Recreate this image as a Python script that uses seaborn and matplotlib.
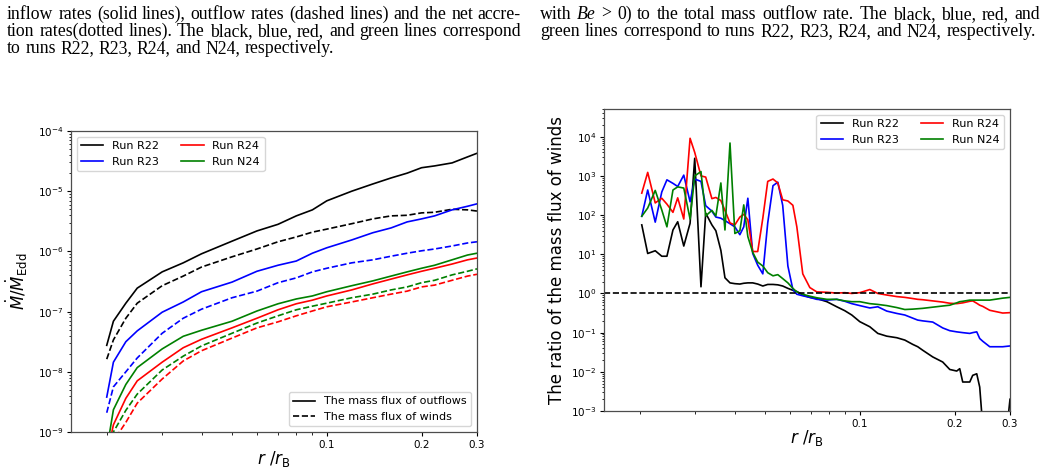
import numpy as np
import pandas as pd
import matplotlib
matplotlib.use("Agg")
import matplotlib.pyplot as plt
import seaborn as sns
from matplotlib.lines import Line2D
from matplotlib.ticker import LogLocator, NullFormatter

# ---- data (log10 of the plotted values) ----
runs = ["R22", "R23", "R24", "N24"]
colors = {"R22": "black", "R23": "blue", "R24": "red", "N24": "green"}

# left panel: mass flux of outflows (solid) and of winds (dashed)
r_left = [0.02, 0.021, 0.023, 0.025, 0.03, 0.035, 0.04, 0.05, 0.06, 0.07, 0.08,
          0.09, 0.1, 0.12, 0.14, 0.16, 0.18, 0.2, 0.22, 0.25, 0.28, 0.3]
out_R22 = [-7.56, -7.16, -6.86, -6.61, -6.34, -6.19, -6.04, -5.83, -5.66, -5.55, -5.41,
           -5.31, -5.16, -5.00, -4.88, -4.78, -4.70, -4.61, -4.58, -4.53, -4.43, -4.37]
wind_R22 = [-7.79, -7.47, -7.11, -6.86, -6.57, -6.41, -6.26, -6.09, -5.96, -5.84, -5.76,
            -5.68, -5.63, -5.54, -5.46, -5.41, -5.40, -5.36, -5.35, -5.30, -5.31, -5.33]
out_R23 = [-8.42, -7.84, -7.50, -7.32, -7.01, -6.84, -6.67, -6.51, -6.33, -6.23, -6.16,
           -6.03, -5.94, -5.81, -5.69, -5.61, -5.51, -5.46, -5.41, -5.31, -5.25, -5.21]
wind_R23 = [-8.68, -8.25, -8.00, -7.77, -7.36, -7.11, -6.96, -6.77, -6.66, -6.52, -6.44,
            -6.34, -6.28, -6.19, -6.14, -6.08, -6.03, -5.99, -5.96, -5.91, -5.86, -5.84]
out_R24 = [-9.40, -8.88, -8.44, -8.15, -7.84, -7.60, -7.46, -7.27, -7.11, -6.97, -6.87,
           -6.81, -6.74, -6.64, -6.54, -6.46, -6.39, -6.33, -6.28, -6.21, -6.14, -6.11]
wind_R24 = [-9.70, -9.15, -8.84, -8.52, -8.12, -7.82, -7.65, -7.44, -7.27, -7.17, -7.07,
            -6.99, -6.92, -6.84, -6.77, -6.71, -6.66, -6.59, -6.56, -6.48, -6.41, -6.38]
out_N24 = [-9.30, -8.63, -8.21, -7.93, -7.62, -7.41, -7.31, -7.16, -6.99, -6.87, -6.79,
           -6.74, -6.67, -6.57, -6.49, -6.41, -6.34, -6.28, -6.23, -6.14, -6.06, -6.03]
wind_N24 = [-9.50, -9.00, -8.64, -8.37, -7.97, -7.74, -7.57, -7.36, -7.19, -7.07, -6.97,
            -6.91, -6.86, -6.77, -6.71, -6.64, -6.59, -6.52, -6.48, -6.39, -6.33, -6.29]

# right panel: ratio of mass flux of winds
r_right = [0.0203, 0.0212, 0.0224, 0.0235, 0.0244, 0.0255, 0.0264, 0.0276, 0.0289, 0.0299,
           0.0313, 0.0324, 0.0339, 0.0349, 0.0362, 0.0373, 0.0387, 0.0401, 0.0416, 0.0428,
           0.0441, 0.0457, 0.0474, 0.0492, 0.0510, 0.0530, 0.0549, 0.0569, 0.0591, 0.0613,
           0.0631, 0.0659, 0.0694, 0.0730, 0.0786, 0.0845, 0.0896, 0.0943, 0.1000, 0.1076,
           0.1141, 0.1218, 0.1311, 0.1390, 0.1473, 0.1528, 0.1585, 0.1705, 0.1834, 0.1931,
           0.2032, 0.2077, 0.2123, 0.2235, 0.2284, 0.2352, 0.2404, 0.2458, 0.2587, 0.2844,
           0.3]
ratio_R22 = [1.75, 1.02, 1.09, 0.95, 0.95, 1.62, 1.83, 1.21, 1.79, 3.45,
             0.17, 2.05, 1.75, 1.60, 1.10, 0.40, 0.27, 0.25, 0.24, 0.26,
             0.27, 0.27, 0.24, 0.19, 0.23, 0.23, 0.22, 0.19, 0.13, 0.08,
             0.05, -0.04, -0.10, -0.13, -0.21, -0.34, -0.44, -0.55, -0.72, -0.85,
             -1.02, -1.09, -1.13, -1.19, -1.30, -1.36, -1.45, -1.62, -1.75, -1.94,
             -1.98, -1.92, -2.26, -2.26, -2.09, -2.05, -2.39, -3.40, -4.50, -4.50,
             -2.70]
ratio_R23 = [1.97, 2.64, 1.82, 2.59, 2.90, 2.81, 2.73, 3.02, 2.34, 2.92,
             2.86, 2.24, 2.10, 1.95, 1.92, 1.86, 1.78, 1.70, 1.50, 1.70,
             2.43, 1.02, 0.72, 0.50, 1.80, 2.75, 2.84, 2.25, 0.70, 0.10,
             -0.02, -0.06, -0.10, -0.15, -0.17, -0.15, -0.20, -0.26, -0.31, -0.37,
             -0.34, -0.45, -0.51, -0.55, -0.63, -0.68, -0.70, -0.73, -0.88, -0.95,
             -0.98, -0.99, -1.00, -1.02, -1.00, -0.98, -1.15, -1.22, -1.36, -1.36,
             -1.34]
ratio_R24 = [2.56, 3.09, 2.31, 2.43, 2.28, 2.07, 2.44, 1.90, 3.96, 3.60,
             3.00, 2.97, 2.42, 2.45, 2.37, 2.12, 1.80, 1.75, 1.95, 2.02,
             1.88, 1.07, 1.07, 1.92, 2.86, 2.92, 2.82, 2.39, 2.36, 2.25,
             1.70, 0.50, 0.15, 0.04, 0.03, 0.01, 0.02, 0.00, 0.02, 0.10,
             0.00, -0.04, -0.08, -0.10, -0.13, -0.15, -0.16, -0.19, -0.22, -0.25,
             -0.26, -0.25, -0.24, -0.20, -0.19, -0.25, -0.30, -0.33, -0.43, -0.50,
             -0.49]
ratio_N24 = [1.97, 2.18, 2.63, 2.13, 1.70, 2.64, 2.72, 2.69, 1.90, 3.00,
             3.11, 1.98, 2.12, 1.98, 2.82, 1.62, 3.84, 1.53, 1.60, 2.26,
             1.45, 1.05, 0.80, 0.70, 0.53, 0.45, 0.48, 0.38, 0.27, 0.13,
             0.04, -0.02, -0.07, -0.11, -0.15, -0.15, -0.19, -0.21, -0.21, -0.26,
             -0.28, -0.31, -0.36, -0.41, -0.40, -0.39, -0.38, -0.35, -0.32, -0.30,
             -0.24, -0.21, -0.20, -0.17, -0.17, -0.17, -0.17, -0.17, -0.17, -0.12,
             -0.10]

out_flux = {"R22": out_R22, "R23": out_R23, "R24": out_R24, "N24": out_N24}
wind_flux = {"R22": wind_R22, "R23": wind_R23, "R24": wind_R24, "N24": wind_N24}
ratio = {"R22": ratio_R22, "R23": ratio_R23, "R24": ratio_R24, "N24": ratio_N24}

left_rows = []
for run in runs:
    for kind, src in (("out", out_flux), ("wind", wind_flux)):
        for r, v in zip(r_left, src[run]):
            left_rows.append({"run": run, "kind": kind, "r": r, "val": 10.0 ** v})
left_df = pd.DataFrame(left_rows)

right_rows = []
for run in runs:
    for r, v in zip(r_right, ratio[run]):
        right_rows.append({"run": run, "r": r, "val": 10.0 ** v})
right_df = pd.DataFrame(right_rows)

# ---- figure ----
W, H = 1056, 470
fig = plt.figure(figsize=(W / 100, H / 100), dpi=100)
ax1 = fig.add_axes([71 / W, 1 - 432 / H, 406 / W, 301 / H])
ax2 = fig.add_axes([604 / W, 1 - 411 / H, 406 / W, 302 / H])

LW = 1.2
for run in runs:
    for kind, ls in (("out", "-"), ("wind", "--")):
        sub = left_df[(left_df.run == run) & (left_df.kind == kind)]
        sns.lineplot(data=sub, x="r", y="val", ax=ax1, color=colors[run],
                     linestyle=ls, lw=LW, legend=False, estimator=None, sort=False)
for run in runs:
    sub = right_df[right_df.run == run]
    sns.lineplot(data=sub, x="r", y="val", ax=ax2, color=colors[run],
                 lw=LW, legend=False, estimator=None, sort=False)
ax2.axhline(1.0, color="black", ls="--", lw=LW)

ax1.set_ylim(1e-9, 1e-4)
ax2.set_ylim(1e-3, 5.1e4)
for ax in (ax1, ax2):
    ax.set_xscale("log")
    ax.set_yscale("log")
    ax.set_xlim(0.0154, 0.3)
    ax.set_xticks([0.1, 0.2, 0.3], ["0.1", "0.2", "0.3"])
    ax.xaxis.set_minor_formatter(NullFormatter())
    ax.yaxis.set_major_locator(LogLocator(base=10, numticks=15))
    ax.yaxis.set_minor_locator(LogLocator(base=10, subs=np.arange(2, 10), numticks=15))
    ax.yaxis.set_minor_formatter(NullFormatter())
    ax.tick_params(which="major", length=3.2, width=0.8, labelsize=7.5, pad=2.5)
    ax.tick_params(which="minor", length=1.8, width=0.6)
    for s in ax.spines.values():
        s.set_color("0.3")
        s.set_linewidth(0.9)
    ax.set_xlabel(r"$r\ /r_{\rm B}$", fontsize=12)
    ax.xaxis.set_label_coords(0.5, -0.055)

ax1.set_ylabel(r"$\dot{M}/\dot{M}_{\rm Edd}$", fontsize=12)
ax1.yaxis.set_label_coords(-0.10, 0.5)
ax2.set_ylabel("The ratio of the mass flux of winds", fontsize=12)
ax2.yaxis.set_label_coords(-0.094, 0.5)

run_handles = [Line2D([], [], color=colors[r], lw=LW, label="Run " + r) for r in runs]
leg = ax1.legend(handles=run_handles, loc="upper left", ncol=2, fontsize=8)
ax1.add_artist(leg)
ax1.legend(handles=[Line2D([], [], color="black", lw=LW, ls="-", label="The mass flux of outflows"),
                    Line2D([], [], color="black", lw=LW, ls="--", label="The mass flux of winds")],
           loc="lower right", fontsize=8)
ax2.legend(handles=run_handles, loc="upper right", ncol=2, fontsize=8)

# ---- caption text above the panels (justified, word by word) ----
SERIF = "Liberation Serif"
CAP_FS = 12.8
rend = fig.canvas.get_renderer()


def caption_line(text, x0, x1, base, justify=True):
    words = text.split(" ")
    items = []
    for w in words:
        st = "italic" if w == "Be" else "normal"
        items.append(fig.text(0, 1 - base / H, w, family=SERIF, style=st,
                              fontsize=CAP_FS, va="baseline", ha="left"))
    widths = [t.get_window_extent(rend).width for t in items]
    if justify and len(items) > 1:
        gap = (x1 - x0 - sum(widths)) / (len(items) - 1)
    else:
        gap = 0.25 * CAP_FS * 100 / 72
    x = x0
    for t, w in zip(items, widths):
        t.set_x(x / W)
        x += w + gap


caption_line("inflow rates (solid lines), outflow rates (dashed lines) and the net accre-", 7, 521, 19)
caption_line("tion rates(dotted lines). The black, blue, red, and green lines correspond", 7, 521, 36)
caption_line("to runs R22, R23, R24, and N24, respectively.", 7, 521, 53, justify=False)
caption_line("with Be > 0) to the total mass outflow rate. The black, blue, red, and", 540, 1040, 19)
caption_line("green lines correspond to runs R22, R23, R24, and N24, respectively.", 540, 1036, 36)

fig.savefig("out.png", dpi=100)
